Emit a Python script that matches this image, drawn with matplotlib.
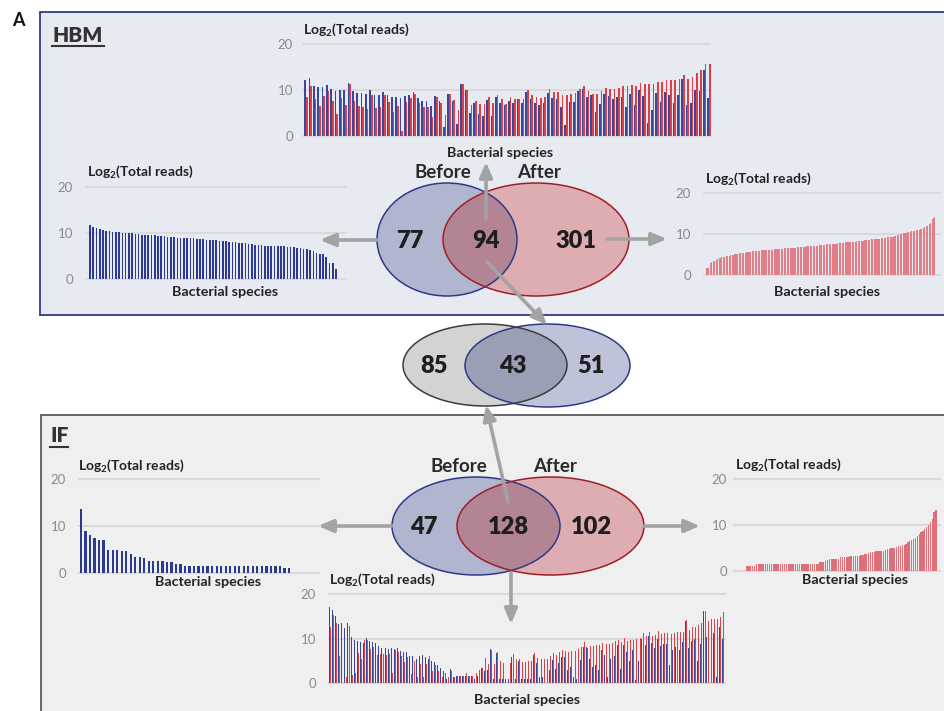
import matplotlib
matplotlib.use("Agg")
import matplotlib.pyplot as plt
from matplotlib.patches import Ellipse, Rectangle
import numpy as np

plt.rcParams['font.family'] = ['Lato', 'DejaVu Sans']
plt.rcParams['mathtext.default'] = 'regular'

W, H, DPI = 944, 711, 100

# ---------------- data: log2(total reads) per bacterial species ----------------
# HBM, species found only before
hbm_before_only = [11.8, 11.4, 11.1, 11.0, 10.7,
                   10.5, 10.4, 10.3, 10.2, 10.2, 10.1, 10.1, 10.0, 10.0, 9.9,
                   9.8, 9.7, 9.7, 9.6, 9.5, 9.5, 9.4, 9.3, 9.3, 9.2,
                   9.1, 9.1, 9.0, 9.0, 9.0, 9.0, 8.9, 8.9, 8.8, 8.8,
                   8.7, 8.6, 8.6, 8.5, 8.4, 8.3, 8.3, 8.2, 8.1, 8.0,
                   8.0, 7.9, 7.9, 7.8, 7.7, 7.6, 7.5, 7.4, 7.4, 7.3,
                   7.3, 7.3, 7.2, 7.2, 7.1, 7.1, 7.0, 6.9, 6.9, 6.8,
                   6.7, 6.6, 6.5, 6.3, 6.1,
                   5.6, 5.5, 5.4, 4.8, 3.5, 3.5, 2.1]

# HBM, species found only after
hbm_after_only = [0.8, 1.7, 1.7, 1.7, 1.7, 2.8, 3.0, 3.2, 3.3, 3.4,
                  3.5, 3.5, 3.6, 3.6, 3.7, 3.8, 3.9, 4.0, 4.1, 4.2,
                  4.3, 4.4, 4.4, 4.5, 4.5, 4.5, 4.6, 4.6, 4.6, 4.7,
                  4.7, 4.7, 4.8, 4.8, 4.9, 5.0, 5.0, 5.1, 5.1, 5.1,
                  5.2, 5.2, 5.2, 5.3, 5.3, 5.3, 5.4, 5.4, 5.4, 5.5,
                  5.5, 5.5, 5.5, 5.6, 5.6, 5.6, 5.6, 5.7, 5.7, 5.7,
                  5.7, 5.8, 5.8, 5.8, 5.8, 5.8, 5.9, 5.9, 5.9, 5.9,
                  5.9, 6.0, 6.0, 6.0, 6.0, 6.0, 6.0, 6.1, 6.1, 6.1,
                  6.1, 6.1, 6.1, 6.2, 6.2, 6.2, 6.2, 6.2, 6.2, 6.3,
                  6.3, 6.3, 6.3, 6.3, 6.3, 6.4, 6.4, 6.4, 6.4, 6.4,
                  6.4, 6.5, 6.5, 6.5, 6.5, 6.5, 6.5, 6.6, 6.6, 6.6,
                  6.6, 6.6, 6.6, 6.7, 6.7, 6.7, 6.7, 6.7, 6.7, 6.8,
                  6.8, 6.8, 6.8, 6.8, 6.8, 6.9, 6.9, 6.9, 6.9, 6.9,
                  6.9, 7.0, 7.0, 7.0, 7.0, 7.0, 7.0, 7.1, 7.1, 7.1,
                  7.1, 7.1, 7.2, 7.2, 7.2, 7.2, 7.2, 7.3, 7.3, 7.3,
                  7.3, 7.3, 7.4, 7.4, 7.4, 7.4, 7.4, 7.5, 7.5, 7.5,
                  7.5, 7.5, 7.6, 7.6, 7.6, 7.6, 7.6, 7.7, 7.7, 7.7,
                  7.7, 7.7, 7.8, 7.8, 7.8, 7.8, 7.8, 7.9, 7.9, 7.9,
                  7.9, 7.9, 8.0, 8.0, 8.0, 8.0, 8.0, 8.1, 8.1, 8.1,
                  8.1, 8.1, 8.2, 8.2, 8.2, 8.2, 8.2, 8.3, 8.3, 8.3,
                  8.3, 8.3, 8.4, 8.4, 8.4, 8.4, 8.4, 8.5, 8.5, 8.5,
                  8.5, 8.5, 8.6, 8.6, 8.6, 8.6, 8.6, 8.7, 8.7, 8.7,
                  8.7, 8.7, 8.8, 8.8, 8.8, 8.8, 8.9, 8.9, 8.9, 8.9,
                  9.0, 9.0, 9.0, 9.0, 9.1, 9.1, 9.1, 9.1, 9.2, 9.2,
                  9.2, 9.2, 9.3, 9.3, 9.3, 9.4, 9.4, 9.5, 9.5, 9.6,
                  9.6, 9.7, 9.8, 9.8, 9.9, 10.0, 10.0, 10.1, 10.2, 10.2,
                  10.3, 10.3, 10.4, 10.4, 10.5, 10.5, 10.5, 10.6, 10.6, 10.7,
                  10.7, 10.7, 10.8, 10.8, 10.8, 10.9, 10.9, 11.0, 11.0, 11.1,
                  11.1, 11.2, 11.3, 11.4, 11.5, 11.6, 11.7, 11.8, 11.9, 12.0,
                  12.1, 12.2, 12.3, 12.5, 12.8, 13.2, 13.6, 13.8, 14.0, 14.2, 14.4]

# HBM, shared species (before / after)
hbm_shared_before = [12.2, 12.6, 10.9, 10.6, 10.6, 11.0, 10.2, 9.8, 10.1, 9.9,
                     11.6, 9.8, 9.4, 9.3, 9.2, 9.9, 8.9, 8.9, 9.6, 8.9,
                     8.5, 8.5, 8.2, 8.7, 9.0, 9.5, 8.2, 7.7, 7.6, 6.5,
                     8.6, 7.7, 2.0, 9.1, 7.6, 2.6, 11.2, 9.9, 5.1, 7.2,
                     4.8, 4.4, 7.8, 4.4, 8.4, 7.2,
                     6.8, 7.7, 7.1, 8.1, 7.1, 9.6, 8.1, 7.2, 6.8, 7.1,
                     9.4, 8.3, 8.1, 6.3, 2.4, 7.5, 7.3, 9.7, 10.3, 8.4,
                     9.0, 5.3, 7.0, 9.2, 8.6, 8.0, 8.4, 8.5, 6.3, 9.1,
                     6.8, 10.1, 8.8, 2.8, 5.6, 9.3, 7.4, 9.6, 9.0, 7.1,
                     9.0, 12.5, 6.7, 7.1, 10.1, 9.7, 14.4, 8.2]
hbm_shared_after = [8.5, 10.9, 8.0, 6.5, 8.6, 9.8, 7.6, 4.8, 8.3, 6.7,
                    11.3, 7.6, 6.6, 6.3, 5.9, 8.9, 6.0, 6.3, 8.9, 7.4,
                    5.3, 6.5, 1.0, 7.4, 8.2, 9.2, 7.1, 6.3, 6.3, 4.2,
                    8.4, 7.2, 4.6, 9.1, 7.8, 5.6, 11.2, 10.0, 6.7, 7.7,
                    6.9, 6.9, 8.4, 7.2, 8.9, 8.0,
                    7.0, 8.5, 8.1, 8.1, 8.1, 10.0, 8.9, 8.4, 8.3, 8.5,
                    10.2, 9.5, 9.5, 9.0, 9.0, 9.2, 9.4, 10.2, 10.9, 9.8,
                    9.1, 9.1, 9.8, 10.4, 10.2, 10.2, 10.5, 10.8, 10.8, 11.1,
                    10.9, 11.6, 11.3, 11.2, 11.3, 11.7, 11.7, 12.1, 12.1, 12.1,
                    12.3, 13.3, 12.5, 12.8, 13.8, 14.4, 15.6, 15.6]

# IF, species found only before
if_before_only = [13.6, 9.0, 8.0, 7.3, 7.0, 6.9, 4.9, 4.9, 4.8, 4.7,
                  4.6, 4.0, 3.4, 3.4, 3.1, 2.5, 2.5, 2.5, 2.5, 2.3,
                  2.2, 1.9, 1.9, 1.5, 1.5, 1.5, 1.5, 1.5, 1.5, 1.5,
                  1.5, 1.5, 1.5, 1.5, 1.5, 1.5, 1.5, 1.5, 1.5, 1.5,
                  1.5, 1.5, 1.5, 1.5, 1.5, 1.1, 1.1]

# IF, species found only after
if_after_only = [1.0, 1.0, 1.0, 1.0, 1.0, 1.5, 1.5, 1.5, 1.5, 1.5,
                 1.5, 1.5, 1.5, 1.5, 1.5, 1.5, 1.5, 1.5, 1.5, 1.5,
                 1.5, 1.5, 1.5, 1.5, 1.5, 1.5, 1.5, 1.5, 1.5, 1.5,
                 1.5, 1.5, 1.5, 1.5, 1.5, 1.5, 1.5, 1.5, 1.5, 2.0,
                 2.0, 2.0, 2.1, 2.4, 2.5, 2.5, 2.5, 2.5, 2.5, 2.6,
                 2.9, 3.0, 3.0, 3.0, 3.0, 3.1, 3.1, 3.1, 3.2, 3.3,
                 3.3, 3.4, 3.5, 3.6, 3.7, 3.9, 4.0, 4.0, 4.1, 4.2,
                 4.3, 4.3, 4.3, 4.4, 4.6, 4.7, 4.8, 4.9, 5.0, 5.0,
                 5.1, 5.3, 5.4, 5.5, 5.6, 5.9, 6.2, 6.4, 6.7, 6.9,
                 7.2, 7.6, 8.0, 8.4, 8.7, 9.1, 9.5, 10.0, 10.6, 11.3,
                 12.7, 13.3]

# IF, shared species (before / after)
if_shared_before = [17.2, 16.5, 15.0, 13.3, 13.5, 12.4, 13.5, 10.4, 9.6, 9.4,
                    9.2, 9.0, 10.1, 9.5, 9.2, 9.0, 8.4, 8.0, 8.0, 7.7,
                    7.9, 7.7, 7.9, 7.3, 7.1, 7.0, 6.2, 6.2, 5.4, 6.2,
                    6.3, 5.9, 5.5, 4.9, 4.8, 4.0, 3.5, 2.7, 1.0, 3.2,
                    1.5, 1.6, 1.6, 1.6, 1.6, 1.6, 1.6, 1.0, 1.7, 3.4,
                    2.8, 3.0, 7.6, 1.0, 6.8, 1.0, 1.0, 1.0, 1.0, 6.0,
                    1.0, 5.0, 0.9, 1.0, 0.9, 0.9, 6.3, 4.6, 1.4, 1.4,
                    1.0, 3.0, 5.2, 3.2, 4.6, 5.8, 5.8, 3.0, 3.6, 1.4,
                    0.9, 5.2, 8.1, 8.1, 5.4, 3.6, 4.0, 3.0, 7.5, 6.4,
                    1.4, 5.5, 6.2, 8.6, 3.2, 8.5, 7.0, 4.9, 7.5, 0.7,
                    4.9, 10.0, 8.6, 10.5, 9.0, 8.0, 10.0, 8.3, 8.9, 8.9,
                    4.0, 7.4, 8.1, 7.4, 9.2, 14.0, 8.0, 9.5, 10.0, 5.0,
                    8.7, 16.2, 10.3, 12.4, 11.3, 1.4, 12.5, 10.0]
if_shared_after = [12.6, 15.3, 13.4, 6.2, 12.7, 1.5, 12.9, 1.9, 2.3, 6.8,
                   5.5, 9.8, 9.6, 7.6, 8.2, 6.4, 6.5, 6.5, 6.4, 6.6,
                   2.3, 7.4, 7.0, 6.2, 4.8, 6.0, 2.0, 4.9, 1.5, 4.4,
                   1.4, 4.4, 6.1, 2.7, 4.0, 2.8, 1.3, 2.2, 1.4, 2.8,
                   1.5, 1.6, 1.6, 1.6, 2.3, 1.6, 1.6, 2.3, 3.0, 3.4,
                   5.6, 4.3, 7.5, 4.3, 7.0, 5.1, 4.6, 4.6, 4.6, 6.5,
                   5.5, 5.5, 4.7, 4.7, 4.9, 5.0, 6.7, 5.7, 5.4, 5.4,
                   5.4, 6.1, 6.7, 6.4, 6.9, 7.5, 7.2, 7.1, 7.2, 7.3,
                   7.6, 8.1, 9.2, 8.0, 8.4, 8.4, 8.5, 8.6, 9.1, 8.9,
                   8.9, 9.0, 9.5, 9.8, 9.3, 10.1, 9.5, 9.6, 9.8, 9.9,
                   10.1, 11.3, 10.5, 11.5, 10.5, 10.8, 11.8, 11.1, 11.2, 11.3,
                   11.1, 11.2, 11.4, 11.5, 11.6, 14.2, 11.9, 12.6, 12.7, 13.1,
                   13.6, 16.3, 13.9, 14.4, 14.4, 14.3, 14.8, 16.0]

# Venn counts
hbm_counts = [77, 94, 301]
common_counts = [85, 43, 51]
if_counts = [47, 128, 102]

y_ticks = [0, 10, 20]
y_title = "Log$_2$(Total reads)"
x_title = "Bacterial species"

BLUE = "#2b3990"
RED = "#d0232e"
PAIR_BLUE = "#3b4897"
PAIR_RED = "#d8414b"
PINK = "#e07f87"
GREY_TXT = "#8a8a8a"
ARROW = "#a3a3a3"

fig = plt.figure(figsize=(W / DPI, H / DPI), dpi=DPI)
fig.patch.set_facecolor("white")

# background layer in pixel coordinates
bg = fig.add_axes([0, 0, 1, 1], zorder=0)
bg.set_xlim(0, W)
bg.set_ylim(H, 0)
bg.axis("off")

bg.add_patch(Rectangle((40, 12), 920, 303, facecolor="#e8eaf2",
                       edgecolor="#2f3a86", lw=1.3))
bg.add_patch(Rectangle((41, 415), 920, 310, facecolor="#efefef",
                       edgecolor="#5c5c5c", lw=1.3))

bg.text(12, 21, "A", fontsize=13, fontweight="bold", ha="left", va="center",
        color="#111111")
bg.text(52, 35, "HBM", fontsize=15, fontweight="heavy", ha="left",
        va="center", color="#333333")
bg.plot([52, 104], [45.5, 45.5], color="#333333", lw=1.5)
bg.text(50, 436, "IF", fontsize=15, fontweight="heavy", ha="left",
        va="center", color="#333333")
bg.plot([50, 68], [447, 447], color="#333333", lw=1.5)


def bar_panel(g0, g1, p20, p0, pad_px, b0, b1, n):
    """Axes whose gridlines span g0..g1 px, with value 20 at p20 and 0 at p0."""
    lo, hi = -0.5, 20.5
    k = (p0 - p20) / 20.0
    top = p0 - hi * k
    bot = p0 - lo * k
    ax = fig.add_axes([g0 / W, 1 - bot / H, (g1 - g0) / W, (bot - top) / H],
                      zorder=2)
    ax.set_facecolor("none")
    ax.set_ylim(lo, hi)
    ax.set_yticks(y_ticks)
    ax.set_xticks([])
    for s in ax.spines.values():
        s.set_visible(False)
    ax.yaxis.grid(True, color="#dadada", lw=1.5)
    ax.set_axisbelow(True)
    ax.tick_params(axis="y", length=0, labelsize=9.5, labelcolor=GREY_TXT,
                   pad=pad_px * 0.72)
    s = (b1 - b0) / max(n - 1, 1)
    ax.set_xlim(-(b0 - g0) / s, (n - 1) + (g1 - b1) / s)
    return ax


def single_bars(ax, vals, color, width):
    x = np.arange(len(vals))
    ax.bar(x, vals, width=width, color=color, lw=0)


def paired_bars(ax, before, after, width):
    x = np.arange(len(before))
    ax.bar(x - 0.2, before, width=width, color=PAIR_BLUE, lw=0)
    ax.bar(x + 0.2, after, width=width, color=PAIR_RED, lw=0)


def titles(tx, ty, bx, by):
    bg.text(tx, ty, y_title, fontsize=10, fontweight="bold", ha="left",
            va="center", color="#222222")
    bg.text(bx, by, x_title, fontsize=10.3, fontweight="bold", ha="center",
            va="center", color="#222222")


# HBM shared
ax = bar_panel(302, 711, 44, 136, 9, 306, 709, len(hbm_shared_before))
paired_bars(ax, hbm_shared_before, hbm_shared_after, 0.34)
titles(303, 30, 500, 153)

# HBM before only
ax = bar_panel(85, 347, 187.3, 279, 12, 90, 336, len(hbm_before_only))
single_bars(ax, hbm_before_only, BLUE, 0.5)
titles(87, 172, 225, 292)

# HBM after only
ax = bar_panel(703, 941, 193.3, 275, 12, 706, 935, len(hbm_after_only))
single_bars(ax, hbm_after_only, PINK, 0.75)
titles(705, 179, 827, 292)

# IF before only
ax = bar_panel(78, 320, 479, 572.7, 12, 81, 289, len(if_before_only))
single_bars(ax, if_before_only, BLUE, 0.5)
titles(78, 466, 208, 582)

# IF after only
ax = bar_panel(733, 941, 479, 570.7, 6, 747, 936, len(if_after_only))
single_bars(ax, if_after_only, "#dc6f78", 0.7)
titles(735, 465, 855, 580)

# IF shared
ax = bar_panel(328, 726, 594, 683.3, 12, 330, 723, len(if_shared_before))
paired_bars(ax, if_shared_before, if_shared_after, 0.32)
titles(329, 580, 527, 700)

# overlay: Venn diagrams and arrows
ov = fig.add_axes([0, 0, 1, 1], zorder=3)
ov.set_facecolor("none")
ov.set_xlim(0, W)
ov.set_ylim(H, 0)
ov.axis("off")


def venn(c1, s1, c2, s2, f1, f2, f12, e1, e2, counts, xs, y):
    p1 = Ellipse(c1, s1[0], s1[1], facecolor=f1, edgecolor="none")
    p2 = Ellipse(c2, s2[0], s2[1], facecolor=f2, edgecolor="none")
    ov.add_patch(p1)
    ov.add_patch(p2)
    p12 = Ellipse(c1, s1[0], s1[1], facecolor=f12, edgecolor="none")
    ov.add_patch(p12)
    p12.set_clip_path(p2)
    ov.add_patch(Ellipse(c1, s1[0], s1[1], fill=False, edgecolor=e1, lw=1.1))
    ov.add_patch(Ellipse(c2, s2[0], s2[1], fill=False, edgecolor=e2, lw=1.1))
    for v, x in zip(counts, xs):
        ov.text(x, y, str(v), fontsize=17, fontweight="heavy", ha="center",
                va="center", color="#1e1e1e")


def arrow(tail, head):
    ov.annotate("", xy=head, xytext=tail,
                arrowprops=dict(arrowstyle="-|>,head_length=0.75,head_width=0.32",
                                color=ARROW, lw=2.6, shrinkA=0, shrinkB=0,
                                mutation_scale=12))


# HBM
venn((447, 239.5), (140, 113), (536, 239.5), (186, 113),
     "#b0b6cf", "#deadb2", "#b38494", "#2f3a86", "#a01e26",
     hbm_counts, [410, 486, 576], 241)
ov.text(443, 172, "Before", fontsize=13.5, fontweight="bold", ha="center",
        va="center", color="#2a2a2a")
ov.text(539, 172, "After", fontsize=13.5, fontweight="bold", ha="center",
        va="center", color="#2a2a2a")

# common between HBM-shared and IF-shared
venn((485, 365), (164, 82), (547.5, 365.5), (165, 83),
     "#d3d3d3", "#bfc3d9", "#9a9fb6", "#3c3c3c", "#2f3a86",
     common_counts, [434, 513, 591], 366)

# IF
venn((476, 526), (168, 98), (550.5, 526), (187, 98),
     "#b0b6cf", "#deadb2", "#b38494", "#2f3a86", "#a01e26",
     if_counts, [424, 508, 591], 527)
ov.text(459, 466, "Before", fontsize=13.5, fontweight="bold", ha="center",
        va="center", color="#2a2a2a")
ov.text(555, 466, "After", fontsize=13.5, fontweight="bold", ha="center",
        va="center", color="#2a2a2a")

# arrows
arrow((377, 240), (320, 240))
arrow((486, 219), (486, 162))
arrow((607, 239), (667, 239))
arrow((487, 262), (547, 325))
arrow((392, 526), (318, 526))
arrow((644, 526), (700, 526))
arrow((508, 502), (486, 405))
arrow((511, 573), (511, 624))

fig.savefig("out.png", dpi=DPI)
